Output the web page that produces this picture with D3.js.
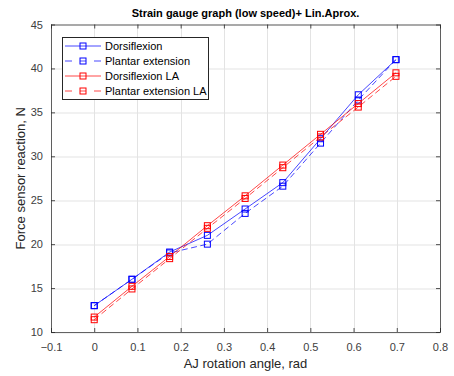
<!DOCTYPE html>
<html>
<head>
<meta charset="utf-8">
<script src="https://cdn.jsdelivr.net/npm/d3@7"></script>
<style>
    body { margin: 0; background: #fff; }
    svg { font-family: "Liberation Sans", Arial, sans-serif; }
</style>
</head>
<body>
<svg id="chart" width="454" height="376"></svg>
<script>
// rotation angles, rad (5 deg steps)
var angles = [0, 0.0873, 0.1745, 0.2618, 0.3491, 0.4363, 0.5236, 0.6109, 0.6981];

var dorsiflexion = [13.0, 16.0, 19.1, 21.0, 24.0, 27.0, 32.0, 37.0, 41.0];
var plantarExtension = [13.0, 16.0, 19.0, 20.0, 23.5, 26.6, 31.5, 36.4, 41.0];
var dorsiflexionLA = [11.7, 15.2, 18.6, 22.1, 25.5, 29.0, 32.5, 36.0, 39.5];
var plantarExtensionLA = [11.4, 14.9, 18.35, 21.8, 25.2, 28.7, 32.2, 35.6, 39.1];

var xTicks = [-0.1, 0, 0.1, 0.2, 0.3, 0.4, 0.5, 0.6, 0.7, 0.8];
var yTicks = [10, 15, 20, 25, 30, 35, 40, 45];

var seriesNames = ['Dorsiflexion', 'Plantar extension', 'Dorsiflexion LA', 'Plantar extension LA'];

var series = [
    { name: seriesNames[0], values: dorsiflexion, color: '#0000ff', dash: null },
    { name: seriesNames[1], values: plantarExtension, color: '#0000ff', dash: '6,3.5' },
    { name: seriesNames[2], values: dorsiflexionLA, color: '#ff0000', dash: null },
    { name: seriesNames[3], values: plantarExtensionLA, color: '#ff0000', dash: '6,3.5' }
];

var margin = { top: 24.5, right: 14, bottom: 44, left: 51 };
var width = 454, height = 376;
var plotWidth = width - margin.left - margin.right,
    plotHeight = height - margin.top - margin.bottom;

var axisColor = '#262626';

var svg = d3.select('#chart');

var x = d3.scaleLinear().domain([-0.1, 0.8]).range([0, plotWidth]);
var y = d3.scaleLinear().domain([10, 45]).range([plotHeight, 0]);

var g = svg.append('g')
    .attr('transform', 'translate(' + margin.left + ',' + margin.top + ')');

// grid
g.append('g').selectAll('line.vgrid')
    .data(xTicks)
    .enter().append('line')
    .attr('x1', function (d) { return Math.round(x(d)) + 0.5; })
    .attr('x2', function (d) { return Math.round(x(d)) + 0.5; })
    .attr('y1', 0).attr('y2', plotHeight)
    .style('stroke', '#e3e3e3').style('stroke-width', 1);

g.append('g').selectAll('line.hgrid')
    .data(yTicks)
    .enter().append('line')
    .attr('y1', function (d) { return Math.round(y(d)) + 0.5; })
    .attr('y2', function (d) { return Math.round(y(d)) + 0.5; })
    .attr('x1', 0).attr('x2', plotWidth)
    .style('stroke', '#e3e3e3').style('stroke-width', 1);

// axes (ticks inward, box on)
function styleAxis(sel) {
    sel.select('.domain').remove();
    sel.selectAll('.tick line').style('stroke', axisColor).style('stroke-opacity', 0.8);
    sel.selectAll('.tick text').style('fill', '#404040').style('font-size', '11px');
}

g.append('g')
    .attr('transform', 'translate(0,' + plotHeight + ')')
    .call(d3.axisBottom(x).tickValues(xTicks).tickSizeInner(-4).tickPadding(11)
        .tickFormat(function (d) { return d3.format('')(+d.toFixed(1)); }))
    .call(styleAxis);

g.append('g')
    .call(d3.axisTop(x).tickValues(xTicks).tickSizeInner(-4).tickFormat(''))
    .call(styleAxis);

g.append('g')
    .call(d3.axisLeft(y).tickValues(yTicks).tickSizeInner(-4).tickPadding(8))
    .call(styleAxis);

g.append('g')
    .attr('transform', 'translate(' + plotWidth + ',0)')
    .call(d3.axisRight(y).tickValues(yTicks).tickSizeInner(-4).tickFormat(''))
    .call(styleAxis);

g.append('rect')
    .attr('x', 0.5).attr('y', 0.5)
    .attr('width', plotWidth).attr('height', plotHeight)
    .style('fill', 'none')
    .style('stroke', axisColor).style('stroke-opacity', 0.7)
    .style('stroke-width', 1);

// series
var line = d3.line()
    .x(function (d, i) { return x(angles[i]); })
    .y(function (d) { return y(d); });

series.forEach(function (s) {
    g.append('path')
        .datum(s.values)
        .attr('d', line)
        .style('fill', 'none')
        .style('stroke', s.color)
        .style('stroke-width', 0.9)
        .style('stroke-opacity', 0.8)
        .style('stroke-dasharray', s.dash);

    g.append('g').selectAll('rect')
        .data(s.values)
        .enter().append('rect')
        .attr('x', function (d, i) { return x(angles[i]) - 3; })
        .attr('y', function (d) { return y(d) - 3; })
        .attr('width', 6).attr('height', 6)
        .style('fill', 'none')
        .style('stroke', s.color)
        .style('stroke-width', 1);
});

// legend
var legend = svg.append('g').attr('transform', 'translate(62,37)');

legend.append('rect')
    .attr('x', 0.5).attr('y', 0.5)
    .attr('width', 146).attr('height', 62)
    .style('fill', '#fff')
    .style('stroke', axisColor).style('stroke-width', 1);

series.forEach(function (s, i) {
    var ly = 9 + i * 15;
    var item = legend.append('g').attr('transform', 'translate(0,' + ly + ')');
    item.append('line')
        .attr('x1', 3).attr('x2', 39).attr('y1', 0).attr('y2', 0)
        .style('stroke', s.color).style('stroke-width', 0.9)
        .style('stroke-opacity', 0.8)
        .style('stroke-dasharray', s.dash ? '7,8,6,8,7' : null);
    item.append('rect')
        .attr('x', 18).attr('y', -3).attr('width', 6).attr('height', 6)
        .style('fill', 'none').style('stroke', s.color).style('stroke-width', 1);
    item.append('text')
        .attr('x', 43).attr('y', 4)
        .style('font-size', '11px').style('fill', '#000')
        .text(s.name);
});

// labels
svg.append('text')
    .attr('x', margin.left + plotWidth / 2).attr('y', 17)
    .attr('text-anchor', 'middle')
    .style('font-size', '11px').style('font-weight', 'bold').style('fill', '#000')
    .text('Strain gauge graph (low speed)+ Lin.Aprox.');

svg.append('text')
    .attr('x', margin.left + plotWidth / 2).attr('y', 368)
    .attr('text-anchor', 'middle')
    .style('font-size', '13px').style('fill', '#262626')
    .text('AJ rotation angle, rad');

svg.append('text')
    .attr('transform', 'translate(25,' + (margin.top + plotHeight / 2) + ') rotate(-90)')
    .attr('text-anchor', 'middle')
    .style('font-size', '13px').style('fill', '#262626')
    .text('Force sensor reaction, N');
</script>
</body>
</html>
